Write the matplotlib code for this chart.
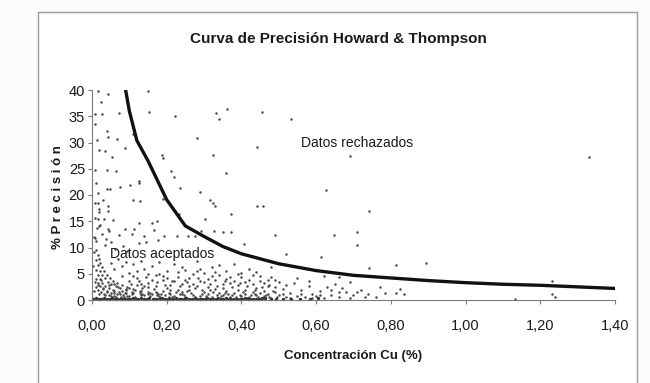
import matplotlib
matplotlib.use("Agg")
import matplotlib.pyplot as plt
import numpy as np
from matplotlib.patches import Rectangle

# Howard & Thompson precision curve
cu_curve = [0.09, 0.10, 0.12, 0.15, 0.20, 0.25, 0.30, 0.35, 0.40, 0.50, 0.60,
            0.70, 0.80, 0.90, 1.00, 1.10, 1.20, 1.30, 1.40]
prec_curve = [40.0, 36.0, 30.4, 26.5, 19.1, 14.1, 12.1, 10.2, 8.8, 6.9, 5.6,
              4.7, 4.2, 3.7, 3.3, 3.0, 2.8, 2.5, 2.2]

# sparse points (mostly rejected)
sparse_pts = [
    (0.016, 39.9), (0.042, 39.2), (0.149, 39.9), (0.023, 37.7), (0.073, 35.6),
    (0.007, 35.5), (0.028, 35.5), (0.153, 35.9), (0.222, 35.0), (0.333, 35.7),
    (0.340, 34.4), (0.362, 36.3), (0.456, 35.8), (0.533, 34.4), (0.009, 33.5),
    (0.040, 32.1), (0.044, 31.1), (0.067, 30.6), (0.014, 30.4), (0.111, 31.7),
    (0.282, 30.8), (0.442, 29.2), (0.020, 28.6), (0.034, 28.4), (0.089, 28.9),
    (0.053, 27.3), (0.188, 27.6), (0.190, 27.0), (0.324, 27.6), (0.690, 27.5),
    (1.331, 27.3), (0.009, 24.8), (0.040, 24.8), (0.064, 24.5), (0.212, 24.6),
    (0.220, 23.5), (0.358, 24.2), (0.010, 22.3), (0.040, 21.2), (0.047, 21.2),
    (0.076, 21.5), (0.102, 22.0), (0.127, 22.6), (0.127, 22.2), (0.236, 21.4),
    (0.288, 20.5), (0.626, 20.9), (0.016, 20.4), (0.111, 19.1), (0.129, 18.9),
    (0.189, 19.3), (0.317, 19.1), (0.324, 18.4), (0.329, 17.9), (0.007, 18.4),
    (0.016, 18.4), (0.029, 19.1), (0.042, 17.9), (0.020, 17.3), (0.044, 16.9),
    (0.443, 17.9), (0.459, 17.9), (0.742, 16.9), (0.372, 16.4), (0.233, 16.3),
    (0.016, 15.4), (0.031, 15.4), (0.056, 15.3), (0.127, 14.6), (0.160, 14.7),
    (0.173, 15.1), (0.303, 15.4), (0.087, 13.5), (0.112, 13.5), (0.167, 13.4),
    (0.020, 14.1), (0.044, 13.5), (0.293, 13.2), (0.351, 12.9), (0.372, 12.9),
    (0.327, 13.1), (0.709, 13.0), (0.709, 10.4), (0.490, 12.3), (0.647, 12.3),
    (0.009, 11.9), (0.038, 11.7), (0.140, 12.2), (0.193, 12.2), (0.228, 12.1),
    (0.256, 12.1), (0.276, 12.1), (0.144, 11.0), (0.176, 11.5), (0.407, 10.7),
    (0.613, 8.2), (0.520, 8.8), (0.814, 6.6), (0.894, 7.1), (0.742, 6.1),
    (1.231, 3.6), (1.231, 1.1), (1.239, 0.5), (1.131, 0.2), (0.770, 2.5),
    (0.784, 1.3), (0.824, 2.1), (0.836, 1.1), (0.814, 1.3),
]

# arcs near the origin
arc_pts = [
    (0.012, 9.5), (0.015, 8.6), (0.018, 7.8), (0.022, 7.0), (0.027, 6.2),
    (0.033, 5.5), (0.040, 4.8), (0.048, 4.2), (0.057, 3.7), (0.068, 3.2),
    (0.080, 2.8), (0.095, 2.4), (0.110, 2.1), (0.128, 1.8), (0.150, 1.6),
    (0.175, 1.4), (0.205, 1.25), (0.240, 1.1),
    (0.012, 7.6), (0.016, 6.6), (0.021, 5.6), (0.027, 4.8), (0.034, 4.1),
    (0.042, 3.5), (0.052, 3.0), (0.063, 2.6), (0.076, 2.2), (0.091, 1.9),
    (0.108, 1.6), (0.128, 1.4), (0.150, 1.2), (0.178, 1.05),
    (0.012, 5.8), (0.016, 4.8), (0.021, 4.0), (0.028, 3.3), (0.036, 2.7),
    (0.046, 2.2), (0.058, 1.8), (0.072, 1.5), (0.088, 1.3), (0.106, 1.1),
    (0.130, 0.95),
    (0.012, 4.0), (0.016, 3.3), (0.022, 2.6), (0.030, 2.1), (0.040, 1.7),
    (0.052, 1.4), (0.066, 1.2), (0.082, 1.0), (0.100, 0.85),
    (0.012, 2.4), (0.017, 1.9), (0.024, 1.5), (0.033, 1.2), (0.045, 1.0),
    (0.060, 0.8), (0.078, 0.65),
]

# accepted cloud
cloud_pts = [
    (0.10, 5.2), (0.11, 6.8), (0.12, 4.1), (0.13, 7.5), (0.14, 5.9), (0.15, 3.3),
    (0.16, 6.4), (0.17, 4.8), (0.18, 7.2), (0.19, 3.9), (0.20, 5.6), (0.21, 2.9),
    (0.22, 6.9), (0.23, 4.4), (0.24, 3.1), (0.25, 5.8), (0.26, 2.6), (0.27, 4.9),
    (0.28, 7.4), (0.29, 3.6), (0.30, 5.1), (0.31, 2.4), (0.32, 6.2), (0.33, 3.8),
    (0.34, 4.7), (0.35, 2.2), (0.36, 5.5), (0.37, 3.3), (0.38, 6.9), (0.39, 2.8),
    (0.40, 4.3), (0.41, 1.9), (0.42, 5.9), (0.43, 3.1), (0.44, 2.3), (0.45, 4.6),
    (0.46, 1.7), (0.47, 3.8), (0.48, 6.3), (0.49, 2.5),
    (0.10, 2.2), (0.11, 1.3), (0.12, 2.9), (0.13, 1.7), (0.14, 0.9), (0.15, 2.4),
    (0.16, 1.1), (0.17, 2.7), (0.18, 0.7), (0.19, 1.8), (0.20, 2.3), (0.21, 1.2),
    (0.22, 0.8), (0.23, 2.0), (0.24, 1.5), (0.25, 0.6), (0.26, 1.9), (0.27, 1.0),
    (0.28, 2.6), (0.29, 0.8), (0.30, 1.6), (0.31, 1.1), (0.32, 0.5), (0.33, 2.1),
    (0.34, 1.3), (0.35, 0.9), (0.36, 1.7), (0.37, 0.6), (0.38, 1.4), (0.39, 2.0),
    (0.40, 0.8), (0.41, 1.2), (0.42, 0.5), (0.43, 1.6), (0.44, 0.9), (0.45, 1.3),
    (0.46, 0.7), (0.47, 1.1), (0.48, 0.4), (0.49, 1.5), (0.50, 0.9), (0.51, 2.1),
    (0.52, 0.6), (0.53, 1.4), (0.54, 3.2), (0.55, 0.8), (0.56, 1.9), (0.57, 0.5),
    (0.58, 2.6), (0.59, 1.2), (0.60, 0.7), (0.61, 1.8), (0.62, 0.4), (0.63, 2.4),
    (0.64, 1.0), (0.65, 3.1), (0.66, 0.6), (0.67, 2.2), (0.68, 1.5), (0.69, 3.4),
    (0.70, 0.9), (0.72, 2.0), (0.74, 1.2), (0.76, 0.5),
    (0.05, 7.1), (0.06, 5.9), (0.07, 7.8), (0.08, 6.4), (0.09, 7.3), (0.06, 3.1),
    (0.08, 4.6), (0.09, 2.1), (0.10, 3.7), (0.12, 5.5), (0.14, 2.6), (0.16, 3.9),
    (0.18, 5.0), (0.20, 4.1), (0.22, 3.6), (0.24, 6.3), (0.26, 4.2), (0.28, 5.5),
    (0.30, 3.4), (0.32, 4.5), (0.34, 6.6), (0.36, 4.0), (0.38, 3.6), (0.40, 5.2),
    (0.42, 3.9), (0.44, 5.3), (0.46, 3.2), (0.48, 4.4), (0.50, 3.5), (0.52, 2.9),
    (0.55, 4.1), (0.58, 3.7), (0.62, 4.6), (0.66, 4.3), (0.68, 4.9),
    (0.005, 12.0), (0.008, 15.6), (0.010, 11.3), (0.013, 13.7), (0.006, 9.1),
    (0.018, 16.8), (0.022, 14.2), (0.027, 12.6), (0.004, 6.5), (0.009, 3.4),
    (0.006, 1.8), (0.015, 2.9), (0.020, 1.2), (0.025, 3.8), (0.030, 2.3),
    (0.035, 0.9), (0.040, 1.6), (0.045, 2.8), (0.050, 0.7), (0.055, 2.0),
    (0.060, 1.4), (0.065, 0.6), (0.070, 2.5), (0.075, 1.1), (0.080, 1.8),
    (0.085, 0.5), (0.090, 1.3), (0.095, 0.8), (0.036, 10.5), (0.045, 13.2),
    (0.052, 11.0), (0.062, 9.8), (0.072, 12.4), (0.082, 10.2), (0.095, 9.4),
    (0.108, 12.6), (0.125, 10.8),
]

# dense core of the accepted cloud
core_pts = [
    (0.105, 3.1), (0.115, 0.6), (0.125, 3.6), (0.135, 2.3), (0.145, 4.4),
    (0.155, 1.4), (0.165, 2.1), (0.175, 3.4), (0.185, 1.2), (0.195, 2.8),
    (0.205, 0.5), (0.215, 3.7), (0.225, 1.6), (0.235, 2.7), (0.245, 0.9),
    (0.255, 3.5), (0.265, 1.3), (0.275, 2.2), (0.285, 4.1), (0.295, 1.9),
    (0.305, 0.7), (0.315, 3.0), (0.325, 1.5), (0.335, 2.7), (0.345, 0.7),
    (0.355, 3.6), (0.365, 1.2), (0.375, 2.4), (0.385, 0.5), (0.395, 3.3),
    (0.405, 1.6), (0.415, 2.6), (0.425, 1.0), (0.435, 2.0), (0.445, 0.6),
    (0.455, 2.4), (0.465, 1.0), (0.475, 2.9), (0.485, 1.8), (0.495, 0.6),
    (0.11, 4.5), (0.13, 3.0), (0.15, 5.0), (0.17, 1.6), (0.19, 4.6), (0.21, 2.0),
    (0.23, 5.3), (0.25, 3.9), (0.27, 3.0), (0.29, 5.9), (0.31, 4.0), (0.33, 5.4),
    (0.35, 3.1), (0.37, 4.4), (0.39, 5.0), (0.41, 3.4), (0.43, 4.8), (0.45, 3.6),
    (0.47, 2.6), (0.49, 3.9),
    (0.115, 1.9), (0.135, 1.1), (0.155, 0.7), (0.175, 1.0), (0.195, 0.9),
    (0.215, 0.6), (0.235, 1.1), (0.255, 1.7), (0.275, 0.5), (0.295, 1.2),
    (0.315, 1.9), (0.335, 0.9), (0.355, 1.4), (0.375, 1.0), (0.395, 0.9),
    (0.415, 0.4), (0.435, 1.2), (0.455, 0.3), (0.475, 0.5), (0.51, 1.2),
    (0.53, 0.4), (0.56, 1.1), (0.59, 0.4), (0.61, 1.0), (0.64, 2.0), (0.66, 1.6),
    (0.69, 0.4), (0.71, 1.6), (0.73, 0.6),
]

# points lying almost on zero
base_cu = [0.004, 0.011, 0.018, 0.025, 0.031, 0.039, 0.047, 0.054, 0.062, 0.068,
           0.074, 0.081, 0.089, 0.096, 0.103, 0.110, 0.118, 0.124, 0.131, 0.138,
           0.146, 0.153, 0.162, 0.168, 0.175, 0.181, 0.188, 0.196, 0.204, 0.210,
           0.217, 0.224, 0.233, 0.239, 0.246, 0.252, 0.259, 0.267, 0.275, 0.281,
           0.288, 0.295, 0.302, 0.309, 0.317, 0.324, 0.331, 0.337, 0.344, 0.352,
           0.360, 0.366, 0.373, 0.381, 0.389, 0.395, 0.402, 0.410, 0.418, 0.424,
           0.431, 0.439, 0.447, 0.454, 0.462, 0.478, 0.493, 0.511, 0.534, 0.557,
           0.583, 0.606]
base_prec = [0.2, 0.3, 0.1, 0.2, 0.3, 0.15, 0.15, 0.35, 0.2, 0.1, 0.1, 0.25, 0.25,
             0.15, 0.15, 0.3, 0.2, 0.1, 0.3, 0.2, 0.1, 0.35, 0.2, 0.15, 0.15, 0.3,
             0.3, 0.1, 0.2, 0.25, 0.1, 0.35, 0.25, 0.15, 0.2, 0.3, 0.15, 0.2, 0.3,
             0.1, 0.1, 0.25, 0.2, 0.35, 0.25, 0.1, 0.15, 0.3, 0.2, 0.15, 0.3, 0.2,
             0.1, 0.25, 0.2, 0.1, 0.15, 0.3, 0.25, 0.2, 0.2, 0.1, 0.1, 0.3, 0.3,
             0.15, 0.2, 0.25, 0.1, 0.2, 0.15, 0.3]

plt.rcParams["font.family"] = ["Liberation Sans", "DejaVu Sans"]
ink = "#1a1a1a"

fig = plt.figure(figsize=(6.5, 3.83), dpi=100)
fig.patch.set_facecolor("#fbfbfb")
# scanned chart border
fig.patches.append(Rectangle((38 / 650, -0.05), 599 / 650, 1 - 12 / 383 + 0.05,
                             transform=fig.transFigure, facecolor="white",
                             edgecolor="#9a9a9a", lw=1.0, zorder=-5))

ax = fig.add_axes([92 / 650, 1 - 300 / 383, 523 / 650, 210 / 383])
ax.set_facecolor("none")

dot = dict(s=3.2, color="#484848", linewidths=0)
for pts in (sparse_pts, arc_pts, cloud_pts, core_pts):
    arr = np.array(pts)
    ax.scatter(arr[:, 0], arr[:, 1], **dot)
ax.scatter(base_cu, base_prec, s=6, color="#333333", linewidths=0, clip_on=False)

ax.plot(cu_curve, prec_curve, color="#111111", lw=2.4)

ax.set_xlim(0, 1.4)
ax.set_ylim(0, 40)
xt = np.arange(0, 1.41, 0.2)
ax.set_xticks(xt)
ax.set_xticklabels([f"{v:.2f}".replace(".", ",") for v in xt])
ax.set_yticks(range(0, 41, 5))
for side in ("top", "right"):
    ax.spines[side].set_visible(False)
for side in ("left", "bottom"):
    ax.spines[side].set_color("#7a7a7a")
    ax.spines[side].set_linewidth(0.8)
ax.tick_params(direction="out", length=3, width=0.8, color="#7a7a7a",
               labelsize=10.5, labelcolor=ink, pad=3)
ax.tick_params(axis="x", pad=11)
ax.tick_params(axis="y", pad=2)

ax.text(0.71, 29.9, "Datos rechazados", ha="center", va="center",
        fontsize=10, color=ink)
ax.text(0.187, 8.8, "Datos aceptados", ha="center", va="center",
        fontsize=10, color=ink)

fig.text(338 / 650, 1 - 39 / 383, "Curva de Precisión Howard & Thompson",
         ha="center", va="center", fontsize=11, color=ink, fontweight="bold")
fig.text(353 / 650, 1 - 356 / 383, "Concentración Cu (%)",
         ha="center", va="center", fontsize=9.5, color=ink, fontweight="bold")
fig.text(58 / 650, 1 - 197 / 383, "% P r e c i s i ó n", rotation=90,
         ha="center", va="center", fontsize=9.5, color=ink, fontweight="bold")

fig.savefig("out.png", dpi=100)
